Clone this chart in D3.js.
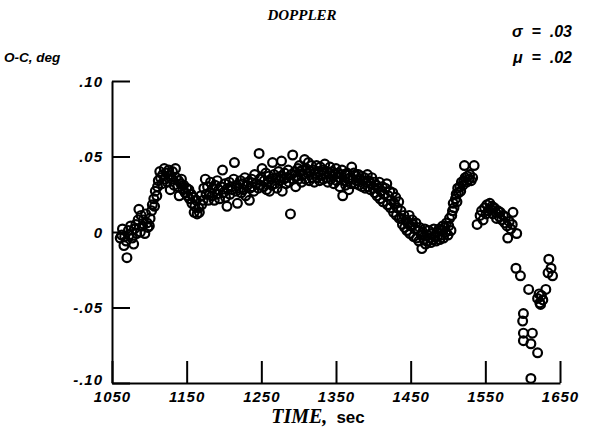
<!DOCTYPE html>
<html><head><meta charset="utf-8">
<script src="https://cdn.jsdelivr.net/npm/d3@7"></script>
<style>body{margin:0;background:#fff}svg{display:block}</style>
</head><body>
<svg id="c" width="589" height="429"></svg>
<script>
// ---- data: [time (sec), O-C (deg)] ----
const seg1 = [[1061,-0.004],[1063,-0.002],[1064,0.002],[1066,-0.009],[1067,-0.003],[1069,-0.006],[1070,-0.017],[1072,0.001],[1073,-0.002],[1075,0.004],[1077,-0.004],[1079,-0.008],[1080,0.002],[1082,0.005],[1083,-0.001],[1085,0.008],[1086,0.015],[1088,0.000],[1089,0.011],[1091,0.004],[1092,0.008],[1094,-0.001],[1095,0.012],[1097,0.006],[1098,0.003],[1100,0.004],[1101,0.009],[1103,0.014],[1104,0.018],[1106,0.022],[1107,0.017],[1108,0.027],[1110,0.024]];
const seg2 = [[1111,0.030],[1112,0.034],[1114,0.040],[1115,0.036],[1117,0.032],[1118,0.038],[1120,0.042],[1121,0.035],[1123,0.039],[1124,0.033],[1126,0.041],[1127,0.037],[1128,0.028],[1130,0.035],[1131,0.040],[1133,0.031],[1135,0.042],[1136,0.036],[1138,0.030],[1139,0.034],[1140,0.024],[1142,0.032],[1143,0.035],[1145,0.028],[1146,0.031],[1148,0.026],[1150,0.029],[1151,0.024],[1153,0.028],[1154,0.022],[1156,0.025],[1157,0.019],[1159,0.023]];
const seg3 = [[1160,0.013],[1161,0.017],[1163,0.021],[1164,0.012],[1166,0.016],[1167,0.013],[1169,0.024],[1170,0.018],[1172,0.021],[1173,0.029],[1175,0.035],[1176,0.025],[1178,0.030],[1179,0.021],[1181,0.026],[1182,0.033],[1184,0.024],[1185,0.029],[1187,0.021],[1188,0.031],[1190,0.025],[1191,0.034],[1193,0.028],[1194,0.022],[1196,0.030],[1198,0.041],[1199,0.026],[1201,0.032],[1202,0.023],[1204,0.017],[1205,0.029],[1207,0.033],[1208,0.025],[1210,0.030],[1211,0.028],[1213,0.035],[1214,0.046],[1216,0.027],[1217,0.031],[1218,0.019],[1220,0.029],[1222,0.034],[1223,0.026],[1225,0.032],[1226,0.028],[1228,0.036],[1229,0.024],[1231,0.031],[1232,0.033],[1234,0.021],[1235,0.029],[1237,0.035],[1238,0.030],[1240,0.027],[1241,0.038],[1243,0.032],[1247,0.052],[1246,0.029],[1248,0.035],[1249,0.031]];
const seg4 = [[1250,0.036],[1251,0.042],[1253,0.030],[1254,0.034],[1256,0.039],[1257,0.028],[1259,0.033],[1260,0.037],[1261,0.027],[1263,0.035],[1264,0.031],[1265,0.046],[1267,0.038],[1268,0.032],[1270,0.036],[1271,0.029],[1273,0.040],[1274,0.034],[1276,0.037],[1277,0.047],[1278,0.027],[1280,0.035],[1281,0.039],[1283,0.032],[1284,0.036],[1286,0.041],[1287,0.033],[1289,0.012],[1290,0.038],[1292,0.051],[1293,0.035],[1295,0.040],[1296,0.030],[1298,0.037],[1299,0.042]];
const seg5 = [[1300,0.035],[1301,0.044],[1302,0.040],[1304,0.033],[1305,0.041],[1306,0.038],[1308,0.048],[1309,0.035],[1310,0.042],[1312,0.039],[1313,0.046],[1314,0.034],[1316,0.040],[1317,0.044],[1318,0.036],[1320,0.041],[1321,0.033],[1322,0.039],[1324,0.044],[1325,0.036],[1326,0.040],[1328,0.034],[1329,0.043],[1330,0.038],[1332,0.041],[1333,0.035],[1334,0.039],[1335,0.045],[1337,0.036],[1338,0.040],[1339,0.033],[1341,0.039],[1342,0.043],[1343,0.035],[1345,0.040],[1346,0.037],[1347,0.032],[1349,0.038],[1350,0.042],[1351,0.034],[1353,0.039],[1354,0.036],[1355,0.030],[1357,0.038],[1358,0.041],[1359,0.024],[1361,0.034],[1362,0.038],[1363,0.031],[1365,0.039],[1366,0.035],[1367,0.028],[1369,0.036],[1370,0.032],[1371,0.043]];
const seg6 = [[1373,0.035],[1374,0.039],[1376,0.032],[1377,0.037],[1378,0.034],[1380,0.038],[1381,0.031],[1382,0.035],[1384,0.037],[1385,0.030],[1386,0.034],[1388,0.036],[1389,0.029],[1390,0.033],[1392,0.038],[1393,0.030],[1394,0.034],[1396,0.028],[1397,0.032],[1398,0.036],[1400,0.029],[1401,0.033],[1402,0.026],[1404,0.031],[1405,0.024],[1406,0.029],[1408,0.033],[1409,0.022],[1410,0.027],[1412,0.030],[1413,0.020],[1414,0.025],[1416,0.029],[1418,0.032],[1419,0.018],[1420,0.024],[1422,0.027],[1423,0.016],[1424,0.021],[1426,0.026],[1427,0.013],[1428,0.019],[1430,0.023],[1431,0.011],[1432,0.016],[1434,0.020],[1435,0.009],[1437,0.014],[1438,0.009],[1439,0.005]];
const seg7 = [[1441,0.011],[1442,0.003],[1444,0.008],[1445,0.001],[1446,0.006],[1448,0.011],[1449,-0.001],[1450,0.004],[1452,0.008],[1453,0.005],[1454,-0.003],[1456,0.002],[1457,0.006],[1458,-0.004],[1460,0.001],[1461,-0.006],[1462,0.003],[1464,-0.002],[1465,-0.011],[1466,0.000],[1468,-0.005],[1469,0.002],[1470,-0.008],[1472,-0.002],[1473,-0.006],[1474,0.001],[1476,-0.004],[1477,-0.007],[1478,-0.001],[1480,-0.005],[1481,0.002],[1482,-0.003],[1484,-0.006],[1485,0.000],[1486,-0.003],[1488,0.002],[1489,-0.005],[1490,0.001],[1492,-0.002],[1493,0.004],[1494,-0.004],[1496,0.003],[1497,0.000],[1498,0.006],[1500,-0.002],[1501,0.004],[1502,0.009],[1504,0.001],[1505,0.011]];
const seg8 = [[1506,0.014],[1507,0.019],[1508,0.016],[1510,0.022],[1511,0.025],[1512,0.020],[1513,0.029],[1514,0.026],[1516,0.030],[1517,0.027],[1518,0.033],[1520,0.031],[1521,0.034],[1522,0.044],[1523,0.036],[1525,0.033],[1526,0.037],[1528,0.035],[1529,0.038],[1531,0.034],[1533,0.036],[1535,0.044]];
const seg9 = [[1539,0.005],[1543,0.011],[1545,0.014],[1547,0.008],[1549,0.016],[1551,0.012],[1552,0.018],[1554,0.014],[1556,0.019],[1557,0.015],[1559,0.017],[1560,0.012],[1562,0.016],[1564,0.013],[1565,0.009],[1567,0.014],[1569,0.010],[1570,0.013],[1572,0.008],[1574,0.011],[1576,0.006],[1577,0.010],[1579,0.004],[1580,-0.004],[1582,0.007],[1584,0.002],[1586,0.005],[1587,0.013],[1592,-0.001]];
const seg10 = [[1591,-0.024],[1597,-0.029],[1608,-0.038],[1601,-0.054],[1600,-0.059],[1601,-0.067],[1613,-0.067],[1601,-0.072],[1611,-0.074],[1620,-0.080],[1611,-0.097],[1631,-0.038],[1620,-0.044],[1623,-0.047],[1625,-0.042],[1627,-0.045],[1622,-0.041],[1624,-0.048],[1635,-0.018],[1634,-0.027],[1640,-0.029],[1638,-0.024]];

const xTicks = [1050,1150,1250,1350,1450,1550,1650];
const xTickLabels = ["1050","1150","1250","1350","1450","1550","1650"];
const yTicks = [0.10,0.05,0,-0.05,-0.10];
const yTickLabels = [".10",".05","0","-.05","-.10"];

const points = [].concat(seg1,seg2,seg3,seg4,seg5,seg6,seg7,seg8,seg9,seg10);

const svg = d3.select("#c");
const x = d3.scaleLinear().domain([1050,1650]).range([112,560]);
const y = d3.scaleLinear().domain([-0.10,0.10]).range([383,81]);

const sansBI = "'Liberation Sans', Arial, sans-serif";
const serif = "'Liberation Serif', 'Times New Roman', serif";

// axes
const yAxis = d3.axisLeft(y).tickValues(yTicks).tickSizeInner(-18).tickSizeOuter(0).tickPadding(9)
  .tickFormat((d,i)=>yTickLabels[i]);
const gy = svg.append("g").attr("transform","translate(112,0)").call(yAxis);
const xAxis = d3.axisBottom(x).tickValues(xTicks).tickSizeInner(-22).tickSizeOuter(0).tickPadding(8)
  .tickFormat((d,i)=>xTickLabels[i]);
const gx = svg.append("g").attr("transform","translate(0,383)").call(xAxis);
[gx,gy].forEach(g=>{
  g.select(".domain").attr("stroke","#000").attr("stroke-width",2);
  g.selectAll(".tick line").attr("stroke","#000").attr("stroke-width",2);
  g.selectAll(".tick text").attr("fill","#000").style("font-family",sansBI)
    .style("font-weight","bold").style("font-style","italic").style("font-size","15px")
    .style("letter-spacing","1px");
});
gy.selectAll(".tick text").attr("dy",(d)=> d === -0.10 ? "0.1em" : "0.35em");
gx.selectAll(".tick text").attr("dy","0.71em");

// points
svg.append("g").selectAll("circle").data(points).join("circle")
  .attr("cx",d=>x(d[0])).attr("cy",d=>y(d[1])).attr("r",4.4)
  .attr("fill","none").attr("stroke","#000").attr("stroke-width",2.2);

// texts
svg.append("text").attr("x",302).attr("y",20).attr("text-anchor","middle")
  .style("font-family",serif).style("font-weight","bold").style("font-style","italic").style("font-size","15px")
  .text("DOPPLER");
svg.append("text").attr("x",572).attr("y",37).attr("text-anchor","end")
  .style("font-family",sansBI).style("font-weight","bold").style("font-style","italic").style("font-size","16px")
  .attr("xml:space","preserve").text("\u03C3  =  .03");
svg.append("text").attr("x",572).attr("y",63).attr("text-anchor","end")
  .style("font-family",sansBI).style("font-weight","bold").style("font-style","italic").style("font-size","16px")
  .attr("xml:space","preserve").text("\u03BC  =  .02");
svg.append("text").attr("x",4).attr("y",62)
  .style("font-family",sansBI).style("font-weight","bold").style("font-style","italic").style("font-size","13.5px")
  .text("O-C, deg");
const xl = svg.append("text").attr("x",318).attr("y",423).attr("text-anchor","middle");
xl.append("tspan").style("font-family",serif).style("font-style","italic").style("font-weight","bold").style("font-size","20px").text("TIME,");
xl.append("tspan").attr("dx","9").style("font-family",sansBI).style("font-weight","bold").style("font-size","17px").text("sec");
</script>
</body></html>
